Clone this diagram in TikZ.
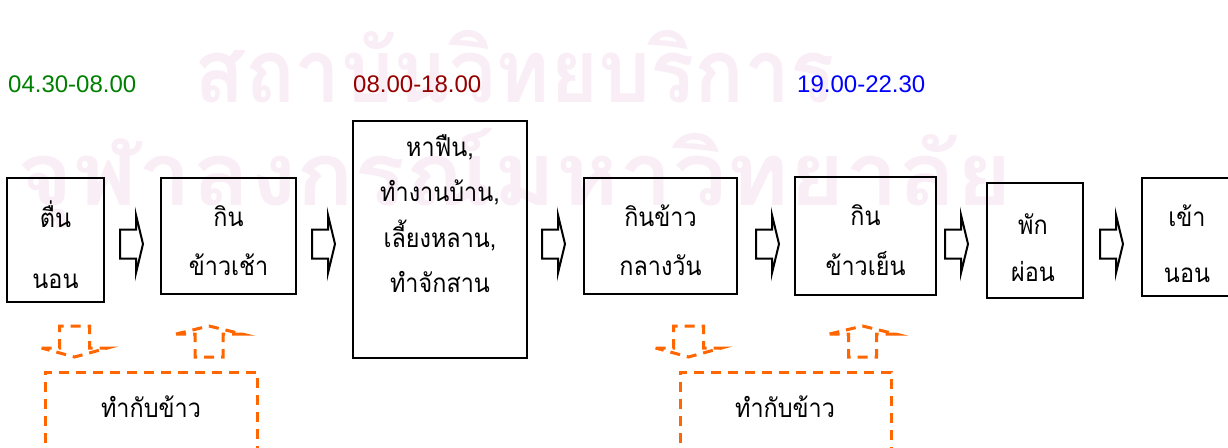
\documentclass[tikz,border=0pt]{standalone}
\usepackage{fontspec}
\usepackage{graphicx}
\setmainfont{Liberation Sans}
\newfontfamily\thai[Script=Thai]{Loma}
\usetikzlibrary{calc}
\definecolor{wm}{RGB}{250,238,246}
\definecolor{dashorange}{RGB}{255,102,0}
\definecolor{tgreen}{RGB}{0,128,0}
\definecolor{tred}{RGB}{150,0,0}
\definecolor{tblue}{RGB}{0,0,255}
\newcommand\tlab[1]{\scalebox{0.9}[1]{#1}}
\tikzset{
  box/.style={draw=black, line width=1.5pt, inner sep=0pt, rectangle},
  lbl/.style={anchor=base, inner sep=0pt, font=\thai\fontsize{26}{26}\selectfont},
  timelbl/.style={anchor=base west, inner sep=0pt, font=\fontsize{24}{24}\selectfont},
  flowline/.style={draw=black, line width=2pt, line join=miter},
  dashline/.style={draw=dashorange, line width=3pt, dash pattern=on 10pt off 7pt},
  wmark/.style={anchor=base, inner sep=0pt, text=wm, font=\thai\bfseries\fontsize{88}{88}\selectfont},
  pics/flowarrow/.style={code={
    \draw[flowline] (0,-14.5) -- (16,-14.5) -- (16,-29) -- (23,0) -- (16,29) -- (16,14.5) -- (0,14.5) -- cycle;}},
  pics/dashdown/.style={code={
    \draw[dashline] (-33,22) -- (-15,22) -- (-15,0) -- (15,0) -- (15,22) -- (33,22) -- (0,31) -- cycle;}},
  pics/dashup/.style={code={
    \draw[dashline] (-33,8) -- (-14,8) -- (-14,31) -- (14,31) -- (14,8) -- (33,8) -- (0,0) -- cycle;}}
}
\begin{document}
\begin{tikzpicture}[x=1pt,y=-1pt]
\clip (0,0) rectangle (1228,447);
\fill[white] (0,0) rectangle (1228,447);
% watermark
\node[wmark] (wm1) at (515,102) {\resizebox{640pt}{\height}{สถาบันวิทยบริการ}};
\node[wmark] (wm2) at (515,205) {\resizebox{995pt}{\height}{จุฬาลงกรณ์มหาวิทยาลัย}};
% time labels
\node[timelbl, text=tgreen] (t1) at (8,92) {04.30-08.00};
\node[timelbl, text=tred] (t2) at (353,92) {08.00-18.00};
\node[timelbl, text=tblue] (t3) at (797,92) {19.00-22.30};
% boxes
\node[box, minimum width=97, minimum height=124] (b1) at (55.5,240) {};
\node[box, minimum width=135, minimum height=116] (b2) at (228.5,236) {};
\node[box, minimum width=174, minimum height=237] (b3) at (440,239.5) {};
\node[box, minimum width=153, minimum height=116] (b4) at (660.5,236) {};
\node[box, minimum width=141, minimum height=118] (b5) at (865.5,236) {};
\node[box, minimum width=96, minimum height=115] (b6) at (1035,240.5) {};
\node[box, minimum width=110, minimum height=118] (b7) at (1197,237) {};
% box texts
\node[lbl] (b1a) at (55.5,227) {\tlab{ตื่น}};
\node[lbl] (b1b) at (55.5,288) {\tlab{นอน}};
\node[lbl] (b2a) at (228.5,226) {\tlab{กิน}};
\node[lbl] (b2b) at (228.5,275) {\tlab{ข้าวเช้า}};
\node[lbl] (b3a) at (440,156) {\tlab{หาฟืน,}};
\node[lbl] (b3b) at (440,201) {\tlab{ทำงานบ้าน,}};
\node[lbl] (b3c) at (440,247) {\tlab{เลี้ยงหลาน,}};
\node[lbl] (b3d) at (440,292) {\tlab{ทำจักสาน}};
\node[lbl] (b4a) at (660.5,226) {\tlab{กินข้าว}};
\node[lbl] (b4b) at (660.5,275) {\tlab{กลางวัน}};
\node[lbl] (b5a) at (865.5,225) {\tlab{กิน}};
\node[lbl] (b5b) at (865.5,275) {\tlab{ข้าวเย็น}};
\node[lbl] (b6a) at (1033,234) {\tlab{พัก}};
\node[lbl] (b6b) at (1033,281) {\tlab{ผ่อน}};
\node[lbl] (b7a) at (1187,226) {\tlab{เข้า}};
\node[lbl] (b7b) at (1187,282) {\tlab{นอน}};
% flow arrows
\foreach \ax in {120,312,542,756,945,1100} {
  \pic at (\ax,244) {flowarrow};
}
% dashed block arrows
\pic at (74.5,326) {dashdown};
\pic at (209,326) {dashup};
\pic at (688.5,326) {dashdown};
\pic at (862.5,326) {dashup};
% dashed open boxes
\draw[dashline] (45,460) -- (45,372) -- (257,372) -- (257,460);
\draw[dashline] (680,460) -- (680,372) -- (891,372) -- (891,460);
\node[lbl] (c1) at (151,417) {\tlab{ทำกับข้าว}};
\node[lbl] (c2) at (785,417) {\tlab{ทำกับข้าว}};
\end{tikzpicture}
\end{document}
